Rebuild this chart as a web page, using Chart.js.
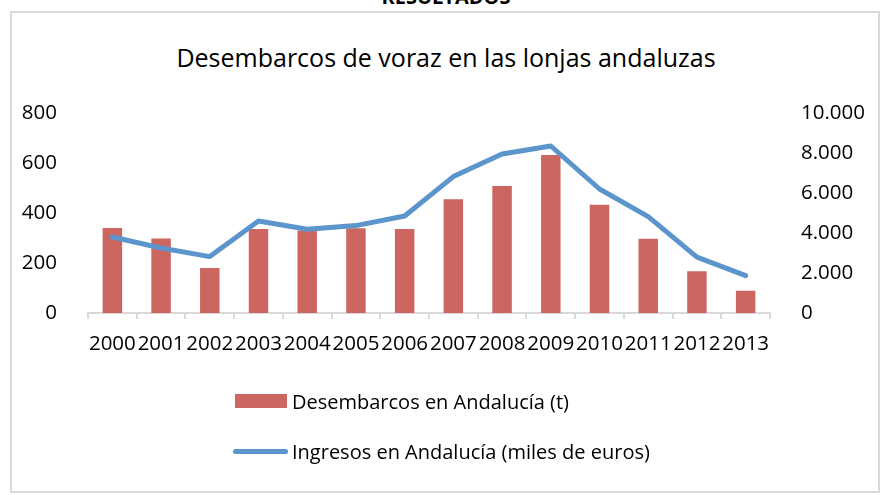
<!DOCTYPE html>
<html>
<head>
<meta charset="utf-8">
<script src="https://cdn.jsdelivr.net/npm/chart.js@4.4.1/dist/chart.umd.min.js"></script>
<style>
    html, body { margin: 0; padding: 0; background: #fff; }
    body { width: 882px; height: 495px; position: relative; overflow: hidden; font-family: 'Open Sans', sans-serif; color: #000; }
    #frame { position: absolute; left: 10px; top: 11px; width: 866px; height: 478px; border: 2px solid #d9d9d9; box-sizing: content-box; }
    #heading { position: absolute; left: 0; width: 892px; text-align: center; top: -17px; font-weight: bold; font-size: 20px; }
    #title { position: absolute; left: 0; width: 892px; text-align: center; top: 40px; font-size: 25px; }
    canvas { position: absolute; left: 0; top: 0; }
    #legend { position: absolute; left: 233px; top: 388px; font-size: 20px; }
    .item { position: absolute; left: 0; white-space: nowrap; }
    .item span { position: absolute; left: 59px; top: 0; line-height: 28px; }
    .swatch { position: absolute; }
</style>
</head>
<body>
<div id="frame"></div>
<div id="heading">RESULTADOS</div>
<div id="title">Desembarcos de voraz en las lonjas andaluzas</div>
<canvas id="chart" width="882" height="495"></canvas>
<div id="legend"></div>
<script>
// Datos
const years = ['2000', '2001', '2002', '2003', '2004', '2005', '2006', '2007', '2008', '2009', '2010', '2011', '2012', '2013'];
const desembarcos = [340, 298, 180, 336, 330, 339, 336, 455, 508, 632, 433, 297, 167, 89];
const ingresos = [3800, 3250, 2820, 4600, 4190, 4370, 4850, 6820, 7950, 8350, 6200, 4820, 2790, 1870];

const barLabel = 'Desembarcos en Andalucía (t)';
const lineLabel = 'Ingresos en Andalucía (miles de euros)';

const tickFont = { family: "'Open Sans', sans-serif", size: 20.5 };
const grey = '#d9d9d9';

function miles(v) {
    return String(v).replace(/\B(?=(\d{3})+(?!\d))/g, '.');
}

const ctx = document.getElementById('chart').getContext('2d');
const chart = new Chart(ctx, {
    type: 'bar',
    data: {
        labels: years,
        datasets: [{
            type: 'line',
            label: lineLabel,
            data: ingresos,
            yAxisID: 'y1',
            borderColor: '#5b95cc',
            backgroundColor: '#5b95cc',
            borderWidth: 5,
            pointRadius: 0,
            tension: 0,
            borderCapStyle: 'round',
            borderJoinStyle: 'round',
            order: 0
        }, {
            type: 'bar',
            label: barLabel,
            data: desembarcos,
            yAxisID: 'y',
            backgroundColor: '#cd6660',
            categoryPercentage: 1,
            barPercentage: 0.4,
            order: 1
        }]
    },
    options: {
        responsive: false,
        animation: false,
        devicePixelRatio: 1,
        layout: { padding: { top: 113, bottom: 139, left: 0, right: 0 } },
        plugins: {
            legend: { display: false },
            tooltip: { enabled: false }
        },
        scales: {
            x: {
                offset: true,
                border: { color: grey, width: 2 },
                grid: { drawOnChartArea: false, drawTicks: true, tickLength: 6, color: grey, lineWidth: 2, offset: true },
                ticks: { color: '#000', font: tickFont, autoSkip: false, maxRotation: 0, minRotation: 0, padding: 13 },
                afterFit: (s) => { s.height = 43; }
            },
            y: {
                position: 'left',
                min: 0,
                max: 800,
                border: { display: false },
                grid: { display: false },
                ticks: { stepSize: 200, color: '#000', font: tickFont, padding: 23 },
                afterFit: (s) => { s.width = 88; }
            },
            y1: {
                position: 'right',
                min: 0,
                max: 10000,
                border: { display: false },
                grid: { display: false },
                ticks: { stepSize: 2000, color: '#000', font: tickFont, padding: 23, callback: (v) => miles(v) },
                afterFit: (s) => { s.width = 112; }
            }
        }
    }
});

// Leyenda en HTML, apilada como en el original
const legend = document.getElementById('legend');
[chart.data.datasets[1], chart.data.datasets[0]].forEach((ds, i) => {
    const item = document.createElement('div');
    item.className = 'item';
    item.style.top = (i * 50) + 'px';
    const sw = document.createElement('div');
    sw.className = 'swatch';
    if (ds.type === 'bar') {
        sw.style.cssText = 'left:2px;top:6px;width:52px;height:14px;background:' + ds.backgroundColor;
    } else {
        sw.style.cssText = 'left:0;top:11px;width:55px;height:5px;border-radius:3px;background:' + ds.borderColor;
    }
    const txt = document.createElement('span');
    txt.textContent = ds.label;
    item.appendChild(sw);
    item.appendChild(txt);
    legend.appendChild(item);
});
</script>
</body>
</html>
